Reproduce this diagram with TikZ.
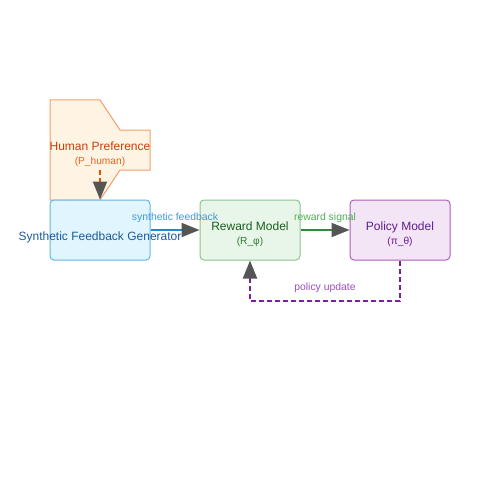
\documentclass[tikz,border=0pt]{standalone}
\usepackage{fontspec}
\setmainfont{Liberation Sans}
\usetikzlibrary{arrows.meta}
\definecolor{headgray}{HTML}{555555}
\definecolor{humfill}{HTML}{FFF4E3}
\definecolor{humline}{HTML}{F2A06C}
\definecolor{humtext}{HTML}{C2410C}
\definecolor{humsub}{HTML}{E0651F}
\definecolor{humarrow}{HTML}{E65100}
\definecolor{genfill}{HTML}{E1F5FE}
\definecolor{genline}{HTML}{64B5E6}
\definecolor{gentext}{HTML}{1A5A9A}
\definecolor{genarrow}{HTML}{1E88D5}
\definecolor{genlabel}{HTML}{3A9AD9}
\definecolor{rmfill}{HTML}{E8F5E9}
\definecolor{rmline}{HTML}{8BC48F}
\definecolor{rmtext}{HTML}{1B5E20}
\definecolor{rmsub}{HTML}{2E7D32}
\definecolor{rmarrow}{HTML}{2E8B3A}
\definecolor{rmlabel}{HTML}{4CAF50}
\definecolor{pmfill}{HTML}{F3E5F5}
\definecolor{pmline}{HTML}{AB5FC0}
\definecolor{pmtext}{HTML}{5B1F8A}
\definecolor{pmsub}{HTML}{6A1B9A}
\definecolor{pmarrow}{HTML}{7B1FA2}
\definecolor{pmlabel}{HTML}{9C4DBA}

\begin{document}
\begin{tikzpicture}[x=1pt,y=-1pt,
  box/.style={draw,line width=1pt,rounded corners=4pt,minimum width=100pt,minimum height=60pt,inner sep=0pt},
  title/.style={anchor=base,font=\fontsize{12}{14}\selectfont,inner sep=0pt},
  sub/.style={anchor=base,font=\fontsize{10.2}{12}\selectfont,inner sep=0pt},
  lbl/.style={anchor=base,font=\fontsize{10.4}{12}\selectfont,inner sep=0pt},
  flow/.style={line width=2pt,-{Triangle[length=18pt,width=14pt,color=headgray]}},
  dashflow/.style={flow,dash pattern=on 5pt off 3pt}]
  \useasboundingbox (0,0) rectangle (500,500);
  \draw[humline,fill=humfill,line width=1pt] (50,100) -- (100,100) -- (120,130) -- (150,130)
    -- (150,170) -- (120,170) -- (100,200) -- (50,200) -- cycle;
  \node[title,text=humtext] (humtitle) at (100,150) {Human Preference};
  \node[sub,text=humsub] (humsub) at (100,164.5) {(P\_human)};
  \coordinate (humbot) at (100,170);

  \node[box,draw=genline,fill=genfill] (gen) at (100,230) {};
  \node[box,draw=rmline,fill=rmfill] (rm) at (250,230) {};
  \node[box,draw=pmline,fill=pmfill] (pm) at (400,230) {};
  \node[title,text=gentext] (gentitle) at (100,240.7) {Synthetic Feedback Generator};
  \node[title,text=rmtext] (rmtitle) at (250,230) {Reward Model};
  \node[sub,text=rmsub] (rmsub) at (250,244.5) {(R\_φ)};
  \node[title,text=pmtext] (pmtitle) at (400,230) {Policy Model};
  \node[sub,text=pmsub] (pmsub) at (400,244.5) {(π\_θ)};

  \draw[dashflow,humarrow] (humbot) -- (gen.north);
  \draw[flow,genarrow] (gen.east) -- (rm.west);
  \draw[flow,rmarrow] (rm.east) -- (pm.west);
  \draw[dashflow,pmarrow] (pm.south) -- ++(0,40) -| (rm.south);

  \node[lbl,text=genlabel] (synlbl) at (175,220) {synthetic feedback};
  \node[lbl,text=rmlabel] (rewlbl) at (325,220) {reward signal};
  \node[lbl,text=pmlabel] (updlbl) at (325,290) {policy update};
\end{tikzpicture}
\end{document}
